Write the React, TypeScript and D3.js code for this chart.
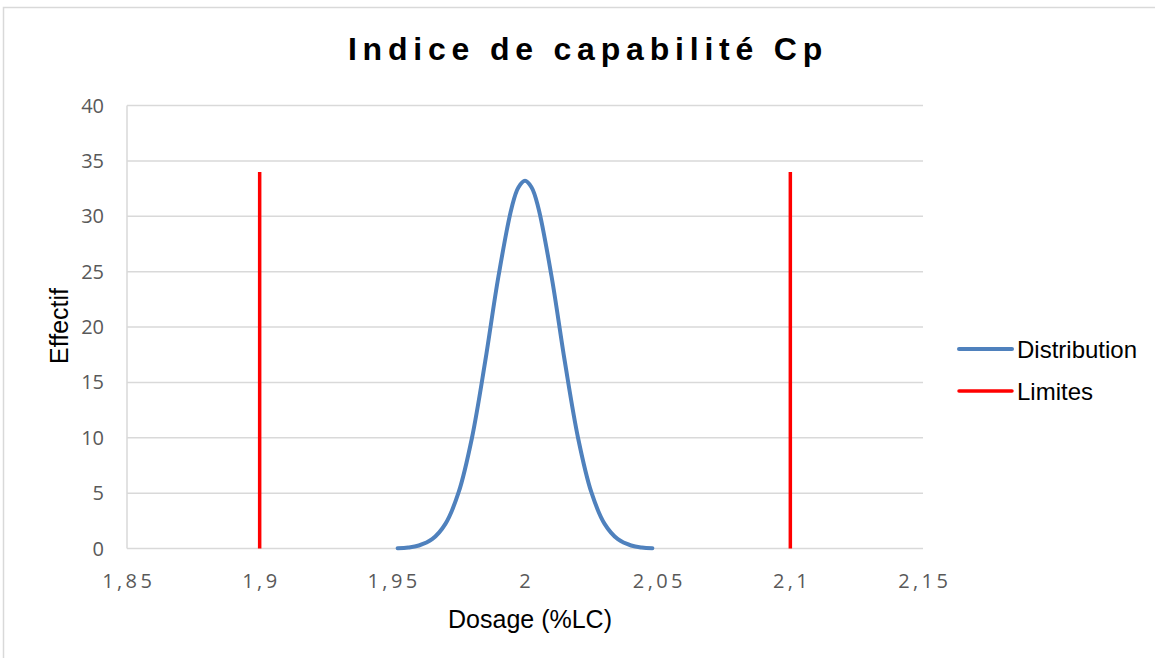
import { scaleLinear, line, curveCatmullRom } from "d3";

// values
const xTicks = [1.85, 1.9, 1.95, 2, 2.05, 2.1, 2.15];
const yTicks = [0, 5, 10, 15, 20, 25, 30, 35, 40];
const distX = [1.952, 1.956, 1.96, 1.965, 1.97, 1.975, 1.98, 1.985, 1.99, 1.995, 1.9975, 2, 2.0025, 2.005, 2.01, 2.015, 2.02, 2.025, 2.03, 2.035, 2.04, 2.044, 2.048];
const distY = [0.03, 0.09, 0.27, 0.84, 2.22, 5.08, 9.98, 16.89, 24.58, 30.8, 32.6, 33.2, 32.6, 30.8, 24.58, 16.89, 9.98, 5.08, 2.22, 0.84, 0.27, 0.09, 0.03];
const limitLow = [1.9, 1.9];
const limitHigh = [2.1, 2.1];
const limitY = [0, 34];

const W = 1155;
const H = 658;

const App = () => {
  // plot area
  const x = scaleLinear().domain([1.85, 2.15]).range([127, 923]);
  const y = scaleLinear().domain([0, 40]).range([548.5, 105.5]);

  const smooth = line<[number, number]>()
    .x((d) => x(d[0]))
    .y((d) => y(d[1]))
    .curve(curveCatmullRom.alpha(0.5));
  const straight = line<[number, number]>()
    .x((d) => x(d[0]))
    .y((d) => y(d[1]));

  const distPts = distX.map((v, i) => [v, distY[i]] as [number, number]);
  const lowPts = limitLow.map((v, i) => [v, limitY[i]] as [number, number]);
  const highPts = limitHigh.map((v, i) => [v, limitY[i]] as [number, number]);

  const fmt = (v: number) => String(v).replace(".", ",");

  return (
    <svg width={W} height={H} style={{ position: "absolute", left: 0, top: 0, background: "#fff" }}>
      {/* chart border */}
      <rect x={3.5} y={7.5} width={W + 10} height={H + 10} fill="#fff" stroke="#d9d9d9" strokeWidth={1.5} />

      {/* title */}
      <text x={588} y={60} textAnchor="middle" fontFamily="Liberation Sans, Arial, sans-serif"
        fontWeight="bold" fontSize={32} letterSpacing={5.8} fill="#000">
        Indice de capabilité Cp
      </text>

      {/* gridlines */}
      {yTicks.map((t) => (
        <line key={t} x1={x(1.85)} x2={x(2.15)} y1={y(t)} y2={y(t)} stroke="#d9d9d9" strokeWidth={1.5} />
      ))}
      <line x1={x(1.85)} x2={x(1.85)} y1={y(40)} y2={y(0)} stroke="#d9d9d9" strokeWidth={1.5} />

      {/* y tick labels */}
      {yTicks.map((t) => (
        <text key={t} x={104} y={y(t) + 7} textAnchor="end" fontFamily="Open Sans, sans-serif"
          fontSize={20} fill="#595959">
          {t}
        </text>
      ))}

      {/* x tick labels */}
      {xTicks.map((t) => (
        <text key={t} x={x(t) + 1.7} y={588} textAnchor="middle" fontFamily="Open Sans, sans-serif"
          fontSize={20} letterSpacing={3.4} fill="#595959">
          {fmt(t)}
        </text>
      ))}

      {/* axis titles */}
      <text x={530} y={628} textAnchor="middle" fontFamily="Liberation Sans, Arial, sans-serif"
        fontSize={25} fill="#000">
        Dosage (%LC)
      </text>
      <text transform={`translate(68, 326) rotate(-90)`} textAnchor="middle"
        fontFamily="Liberation Sans, Arial, sans-serif" fontSize={25} fill="#000">
        Effectif
      </text>

      {/* limits */}
      <path d={straight(lowPts) || ""} stroke="#ff0000" strokeWidth={3.5} fill="none" />
      <path d={straight(highPts) || ""} stroke="#ff0000" strokeWidth={3.5} fill="none" />

      {/* distribution */}
      <path d={smooth(distPts) || ""} stroke="#4f81bd" strokeWidth={4} fill="none"
        strokeLinecap="round" strokeLinejoin="round" />

      {/* legend */}
      <line x1={959} x2={1012} y1={349} y2={349} stroke="#4f81bd" strokeWidth={4} strokeLinecap="round" />
      <text x={1017} y={358} fontFamily="Liberation Sans, Arial, sans-serif" fontSize={24} fill="#000">
        Distribution
      </text>
      <line x1={959} x2={1012} y1={391} y2={391} stroke="#ff0000" strokeWidth={3.5} strokeLinecap="round" />
      <text x={1017} y={400} fontFamily="Liberation Sans, Arial, sans-serif" fontSize={24} fill="#000">
        Limites
      </text>
    </svg>
  );
};

export default App;
